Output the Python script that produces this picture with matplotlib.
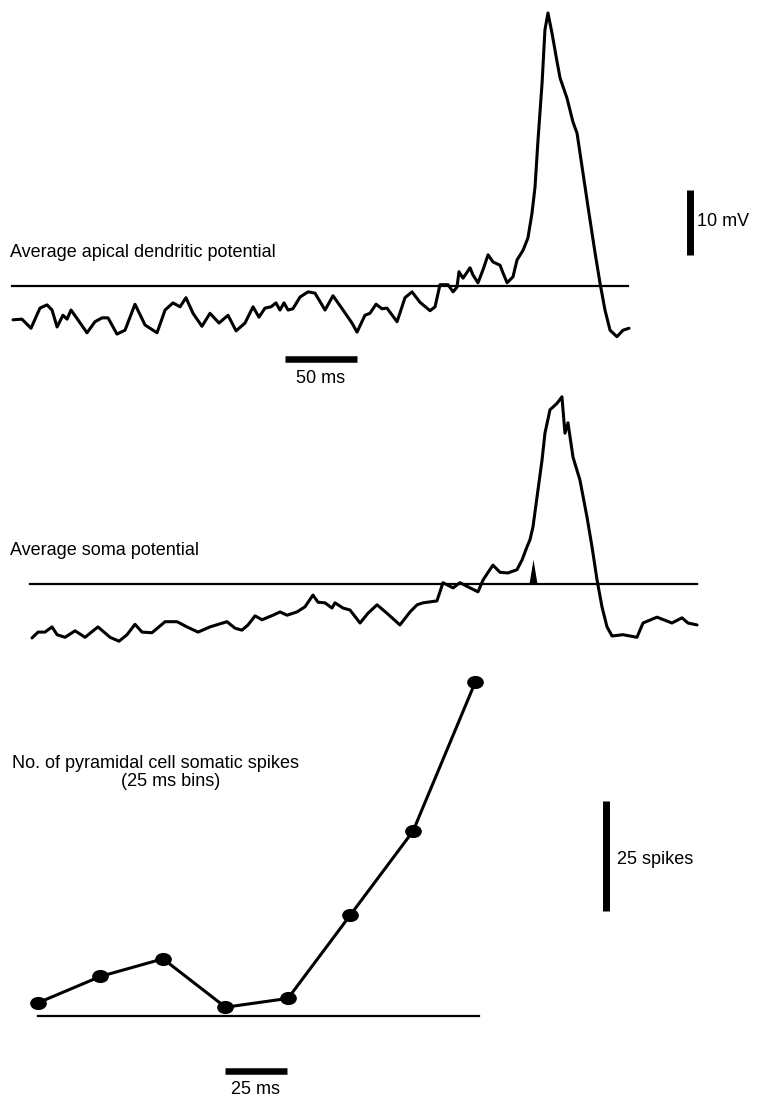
import matplotlib

matplotlib.use("Agg")
import matplotlib.pyplot as plt
import numpy as np
from matplotlib.path import Path

plt.rcParams["font.family"] = ["Liberation Sans", "DejaVu Sans"]

# apical dendrite average (ms, mV relative to baseline)
apical_t = [0.7, 6.9, 13.2, 19.4, 24.3, 27.8, 31.3, 35.4, 38.2, 41.0, 45.8, 52.1,
            57.6, 62.5, 66.7, 72.9, 78.5, 85.4, 92.4, 100.7, 106.3, 111.8, 116.7,
            120.8, 125.7, 131.9, 137.5, 143.8, 150.0, 155.6, 161.8, 167.4, 171.5,
            175.7, 179.9, 183.3, 186.1, 188.9, 191.7, 195.1, 200.0, 205.6, 210.4,
            217.4, 222.9, 229.9, 236.1, 239.6, 245.1, 248.6, 252.8, 256.9, 260.4,
            267.4, 272.9, 277.8, 283.3, 290.3, 293.8, 297.2, 302.8, 306.3, 309.0,
            310.4, 313.2, 318.1, 320.1, 323.6, 327.1, 330.6, 334.0, 338.9, 341.0,
            343.8, 347.9, 350.7, 354.9, 358.3, 361.1, 363.2, 365.3, 368.1, 370.1,
            372.2, 375.0, 378.5, 380.6, 385.4, 389.6, 392.4, 396.5, 400.0, 404.9,
            408.3, 411.8, 415.3, 420.1, 424.3, 428.5]
apical_mv = [-5.2, -5.1, -6.5, -3.4, -2.9, -3.7, -6.3, -4.5, -5.1, -3.7, -5.2, -7.2,
             -5.5, -4.9, -4.9, -7.4, -6.8, -2.8, -6.0, -7.2, -3.7, -2.6, -3.2,
             -1.8, -4.2, -6.2, -4.2, -5.7, -4.5, -6.9, -5.7, -3.2, -4.8,
             -3.4, -3.2, -2.6, -3.7, -2.6, -3.7, -3.5, -1.7, -0.9, -1.1,
             -3.7, -1.5, -3.7, -5.7, -7.1, -4.5, -4.2, -2.8, -3.5, -3.4,
             -5.5, -1.8, -0.9, -2.5, -3.8, -3.2, 0.2, 0.2, -0.9, -0.2,
             2.2, 1.2, 2.8, 1.7, 0.5, 2.5, 4.8, 3.7, 3.2, 2.0,
             0.5, 1.4, 4.0, 5.5, 7.4, 11.2, 15.2, 22.5, 31.2, 39.4,
             42.0, 38.9, 34.5, 32.0, 28.9, 25.2, 23.5, 17.4, 12.2, 5.1,
             0.5, -3.7, -6.8, -7.8, -6.8, -6.5]

# soma average (ms, mV relative to baseline)
soma_t = [1.4, 5.6, 10.4, 15.3, 18.8, 24.3, 31.3, 38.2, 47.2, 55.6, 61.8, 67.4,
          72.9, 77.8, 84.7, 93.8, 102.1, 109.0, 116.7, 125.0, 136.8, 142.4, 147.2,
          151.4, 156.3, 161.1, 168.8, 173.6, 178.5, 185.4, 191.0, 196.5, 200.0,
          204.9, 209.7, 211.8, 217.4, 222.2, 229.2, 234.7, 241.0, 247.9, 256.9,
          263.9, 268.8, 272.9, 282.6, 286.8, 293.8, 298.6, 305.6, 311.1, 314.6,
          318.1, 321.5, 326.4, 331.9, 338.2, 341.7, 345.1, 347.2, 349.3, 352.1,
          355.6, 357.6, 361.1, 366.0, 369.4, 371.5, 373.6, 377.1, 381.9, 386.8,
          390.3, 393.8, 397.2, 400.7, 404.2, 411.8, 421.5, 425.7, 435.4, 445.8,
          452.8, 456.9, 463.2]
soma_mv = [-8.3, -7.4, -7.4, -6.6, -7.8, -8.2, -7.2, -8.2, -6.6, -8.2, -8.8, -7.8,
           -6.2, -7.4, -7.5, -5.8, -5.8, -6.6, -7.4, -6.6, -5.8, -6.8, -7.1,
           -6.3, -4.9, -5.5, -4.8, -4.3, -4.8, -4.3, -3.5, -1.7, -2.8,
           -2.9, -3.7, -2.9, -3.7, -4.0, -6.0, -4.5, -3.2, -4.5, -6.3,
           -4.3, -3.2, -2.9, -2.6, 0.2, -0.6, 0.2, -0.6, -1.2, 0.6,
           1.8, 2.9, 1.8, 1.7, 2.2, 3.7, 5.7, 6.8, 8.8, 13.4,
           19.1, 23.2, 26.8, 27.8, 28.8, 23.2, 24.8, 19.5, 16.0, 10.3,
           5.7, 0.6, -3.5, -6.6, -8.0, -7.8, -8.2, -6.0, -5.1, -6.0,
           -5.2, -6.0, -6.3]
soma_arrow_t = 349.3

# spike counts in 25 ms bins
bin_t = [0, 25, 50, 75, 100, 125, 150, 175]
spike_counts = [3, 9, 13, 2, 4, 23, 42, 76]

W, H = 757, 1099
fig = plt.figure(figsize=(W / 100, H / 100), dpi=100)
fig.patch.set_facecolor("white")

fs = 13
trace_kw = dict(color="black", lw=2.2, solid_joinstyle="round", solid_capstyle="round")
base_kw = dict(color="black", lw=1.6)


def panel(top, bottom, x0, px_per_unit_x, y0, px_per_unit_y):
    # axes covering full width between pixel rows top..bottom
    ax = fig.add_axes([0, 1 - bottom / H, 1, (bottom - top) / H])
    ax.set_xlim(-x0 / px_per_unit_x, (W - x0) / px_per_unit_x)
    ax.set_ylim((y0 - bottom) / px_per_unit_y, (y0 - top) / px_per_unit_y)
    ax.axis("off")
    return ax


# --- apical dendrite ---
ax1 = panel(0, 395, 12, 1.44, 286, 6.5)
ax1.plot([0, 427.8], [0, 0], **base_kw)
ax1.plot(apical_t, apical_mv, **trace_kw)
ax1.text(-1.4, 5.1, "Average apical dendritic potential", fontsize=fs, va="center", ha="left")
ax1.plot([470.8, 470.8], [4.8, 14.8], color="black", lw=5.0, solid_capstyle="butt")
ax1.text(475.7, 9.85, "10 mV", fontsize=fs, va="center", ha="left")
ax1.plot([189.6, 239.6], [-11.2, -11.2], color="black", lw=4.7, solid_capstyle="butt")
ax1.text(214.6, -14.3, "50 ms", fontsize=fs, va="center", ha="center")

# --- soma ---
ax2 = panel(395, 660, 30, 1.44, 584, 6.5)
ax2.plot([0, 463.2], [0, 0], **base_kw)
ax2.plot(soma_t, soma_mv, **trace_kw)
arrow_marker = Path([(0, 1), (-0.33, -1), (0.33, -1), (0, 1)],
                    [Path.MOVETO, Path.LINETO, Path.LINETO, Path.CLOSEPOLY])
ax2.plot([soma_arrow_t], [2.0], marker=arrow_marker, ms=17, color="black", mew=0)
ax2.text(-13.9, 5.2, "Average soma potential", fontsize=fs, va="center", ha="left")

# --- spike histogram ---
ax3 = panel(660, 1099, 38, 2.5, 1016, 4.4)
ax3.plot([0, 176.4], [0, 0], **base_kw)
ellipse = Path.unit_circle().transformed(matplotlib.transforms.Affine2D().scale(1.3, 1.0))
ax3.plot(bin_t, spike_counts, color="black", lw=2.2, marker=ellipse, ms=11,
         markerfacecolor="black", markeredgecolor="black")
ax3.text(-10.4, 57.5, "No. of pyramidal cell somatic spikes", fontsize=fs, va="center", ha="left")
ax3.text(53.2, 53.2, "(25 ms bins)", fontsize=fs, va="center", ha="center")
ax3.plot([227.2, 227.2], [23.9, 48.9], color="black", lw=5.0, solid_capstyle="butt")
ax3.text(231.6, 35.5, "25 spikes", fontsize=fs, va="center", ha="left")
ax3.plot([74.7, 99.7], [-12.5, -12.5], color="black", lw=4.7, solid_capstyle="butt")
ax3.text(87.2, -16.8, "25 ms", fontsize=fs, va="center", ha="center")

fig.savefig("out.png", dpi=100, facecolor="white")
